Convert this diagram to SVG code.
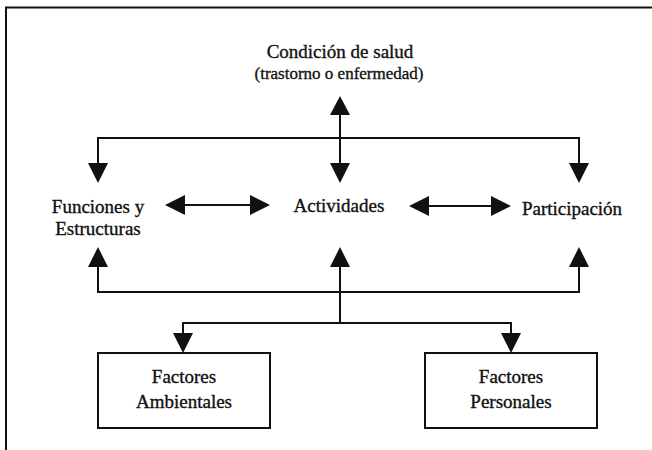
<svg xmlns="http://www.w3.org/2000/svg" width="652" height="450" viewBox="0 0 652 450">
<defs>
<style>
.t{font-size:19px;fill:#111;stroke:#111;stroke-width:0.35;text-anchor:middle}
.small{font-size:17px}
.ln{fill:none;stroke:#111;stroke-width:2}
.box{fill:#fff;stroke:#111;stroke-width:2}
.ah{fill:#111}
</style>
</defs>
<rect width="652" height="450" fill="#fff"/>
<path class="ln" d="M6,450 V7.5 H652"/>
<g id="connectors">
<path class="ln" d="M340,114 V163"/>
<polygon class="ah" points="340,96 330,115 350,115"/>
<polygon class="ah" points="340,183 330,163 350,163"/>
<path class="ln" d="M98,163 V138 H579 V163"/>
<polygon class="ah" points="98,183 88,163 108,163"/>
<polygon class="ah" points="579,183 569,163 589,163"/>
<path class="ln" d="M184,205 H251"/>
<polygon class="ah" points="165,205 185,195 185,215"/>
<polygon class="ah" points="270,205 250,195 250,215"/>
<path class="ln" d="M428,206 H493"/>
<polygon class="ah" points="409,206 429,196 429,216"/>
<polygon class="ah" points="511,206 491,196 491,216"/>
<path class="ln" d="M98,267 V292 H579 V267"/>
<polygon class="ah" points="98,247 88,267 108,267"/>
<polygon class="ah" points="579,247 569,267 589,267"/>
<path class="ln" d="M340,266 V323"/>
<polygon class="ah" points="340,247 330,267 350,267"/>
<path class="ln" d="M183,334 V323 H511 V334"/>
<polygon class="ah" points="183,353 173,333 193,333"/>
<polygon class="ah" points="511,353 501,333 521,333"/>
</g>
<g id="condicion" font-family="Liberation Serif, serif">
<text class="t" x="340" y="58">Condición de salud</text>
<text class="t small" x="339" y="79">(trastorno o enfermedad)</text>
</g>
<g id="funciones" font-family="Liberation Serif, serif">
<text class="t" x="98" y="213">Funciones y</text>
<text class="t" x="98" y="235">Estructuras</text>
</g>
<g id="actividades" font-family="Liberation Serif, serif">
<text class="t" x="339" y="212">Actividades</text>
</g>
<g id="participacion" font-family="Liberation Serif, serif">
<text class="t" x="572" y="215">Participación</text>
</g>
<g id="ambientales" font-family="Liberation Serif, serif">
<rect class="box" x="98" y="353" width="172" height="75"/>
<text class="t" x="184" y="383">Factores</text>
<text class="t" x="184" y="408">Ambientales</text>
</g>
<g id="personales" font-family="Liberation Serif, serif">
<rect class="box" x="425" y="353" width="172" height="75"/>
<text class="t" x="511" y="383">Factores</text>
<text class="t" x="511" y="408">Personales</text>
</g>
</svg>
